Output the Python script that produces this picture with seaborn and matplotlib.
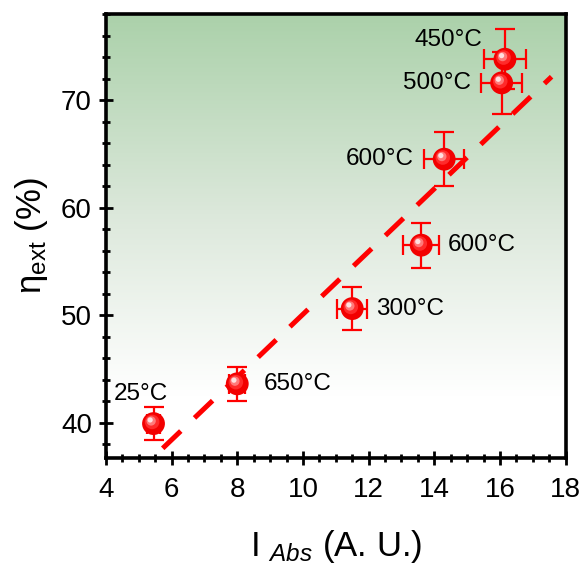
import numpy as np
import pandas as pd
import matplotlib
matplotlib.use('Agg')
import matplotlib.pyplot as plt
import matplotlib.transforms as mtransforms
from matplotlib.colors import LinearSegmentedColormap
from matplotlib.ticker import MultipleLocator
import seaborn as sns

# data
labels = ['25°C', '650°C', '300°C', '600°C', '600°C', '500°C', '450°C']
i_abs = [5.45, 8.0, 11.5, 13.6, 14.3, 16.05, 16.15]
i_abs_err = [0.2, 0.25, 0.45, 0.55, 0.6, 0.62, 0.65]
eta_ext = [39.9, 43.6, 50.6, 56.5, 64.5, 71.6, 73.8]
eta_ext_err = [1.5, 1.6, 2.0, 2.1, 2.5, 2.9, 2.8]
fit_x = [5.73, 17.57]
fit_slope = 2.92
fit_y0 = 37.6

# label placement (offset in points, alignment)
label_style = [((-9, 21), 'center'), ((19, 0), 'left'), ((17, 0), 'left'), ((19, 0), 'left'),
               ((-22, 0), 'right'), ((-22, 0), 'right'), ((-16, 14), 'right')]

df = pd.DataFrame({'i_abs': i_abs, 'eta_ext': eta_ext, 'label': labels})

sns.set_style('ticks')
plt.rcParams['font.family'] = ['Liberation Sans', 'DejaVu Sans']
plt.rcParams['mathtext.fontset'] = 'custom'
plt.rcParams['mathtext.rm'] = 'Liberation Sans'
plt.rcParams['mathtext.it'] = 'Liberation Sans:italic'
plt.rcParams['text.color'] = 'black'
plt.rcParams['axes.labelcolor'] = 'black'
plt.rcParams['xtick.color'] = 'black'
plt.rcParams['ytick.color'] = 'black'

fig = plt.figure(figsize=(5.85, 5.75), dpi=100)
ax = fig.add_axes([0.181, 0.2035, 0.786, 0.772])

# green-to-white background gradient
cmap = LinearSegmentedColormap.from_list('bg', [(0, '#ffffff'), (0.14, '#ffffff'),
                                                (0.55, '#dce8db'), (1, '#abd1aa')])
grad = np.linspace(0, 1, 256).reshape(-1, 1)
ax.imshow(grad, cmap=cmap, aspect='auto', origin='lower', extent=[0, 1, 0, 1],
          transform=ax.transAxes, zorder=0)

# dashed fit line
fx = np.array(fit_x)
fy = fit_y0 + fit_slope * (fx - fit_x[0])
ax.plot(fx, fy, color='#ff0000', lw=3.6, dashes=(5.0, 3.8), zorder=2)

ax.errorbar(i_abs, eta_ext, xerr=i_abs_err, yerr=eta_ext_err, fmt='none',
            ecolor='#ff0000', elinewidth=1.6, capsize=7, capthick=1.6, zorder=3)

sns.scatterplot(data=df, x='i_abs', y='eta_ext', s=270, color='#f20000',
                edgecolor='none', ax=ax, zorder=4, legend=False)
# sphere shading highlight
for k, (sz, col) in enumerate([(110, '#ff2a2a'), (45, '#ff7a7a'), (14, '#ffe0e0')]):
    off = mtransforms.offset_copy(ax.transData, fig=fig, x=-1.0 - 0.7 * k, y=1.2 + 0.7 * k, units='points')
    ax.scatter(i_abs, eta_ext, s=sz, color=col, edgecolor='none', transform=off, zorder=5 + k)

for x, y, t, (off, ha) in zip(i_abs, eta_ext, labels, label_style):
    ax.annotate(t, (x, y), xytext=off, textcoords='offset points', fontsize=17.5,
                ha=ha, va='center', zorder=8)

ax.set_xlim(4, 18)
ax.set_ylim(36.7, 78)
ax.xaxis.set_major_locator(MultipleLocator(2))
ax.xaxis.set_minor_locator(MultipleLocator(0.5))
ax.yaxis.set_major_locator(MultipleLocator(10))
ax.yaxis.set_minor_locator(MultipleLocator(2))
ax.tick_params(which='major', direction='inout', length=10, width=2, labelsize=20, pad=5)
ax.tick_params(axis='x', which='major', pad=9)
ax.tick_params(which='minor', direction='inout', length=6, width=2)
for sp in ax.spines.values():
    sp.set_linewidth(2.6)
    sp.set_color('black')
    sp.set_visible(True)

ax.set_xlabel(r'I $_{Abs}$ (A. U.)', fontsize=25, labelpad=18)
ax.set_ylabel(r'η$_{\rm ext}$ (%)', fontsize=25, labelpad=8)

fig.savefig('out.png', dpi=100)
